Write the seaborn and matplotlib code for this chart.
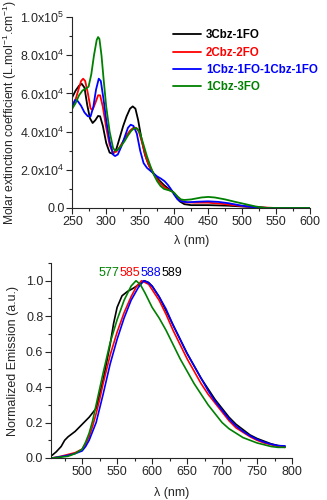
import numpy as np
import pandas as pd
import matplotlib
matplotlib.use("Agg")
import matplotlib.pyplot as plt
from matplotlib.ticker import MultipleLocator, FuncFormatter
import seaborn as sns

# ---------------- data ----------------
names = ["3Cbz-1FO", "2Cbz-2FO", "1Cbz-1FO-1Cbz-1FO", "1Cbz-3FO"]
colors = ["#000000", "#FF0000", "#0000FF", "#008000"]

# absorption (x in nm, y in units of 1e5 L mol-1 cm-1)
abs_x_black = [250, 255, 260, 264, 268, 272, 276, 280, 284, 288, 291, 295, 300, 305, 310, 315, 320, 325, 330, 335,
               339, 343, 347, 352, 357, 362, 367, 372, 378, 385, 392, 398, 403, 408, 415, 425, 450, 480, 510, 540, 600]
abs_y_black = [0.58, 0.615, 0.64, 0.65, 0.63, 0.54, 0.47, 0.445, 0.46, 0.482, 0.48, 0.43, 0.34, 0.29, 0.283, 0.31,
               0.37, 0.43, 0.48, 0.52, 0.532, 0.52, 0.46, 0.36, 0.28, 0.23, 0.195, 0.17, 0.145, 0.12, 0.10, 0.085,
               0.06, 0.035, 0.02, 0.015, 0.015, 0.012, 0.006, 0.0, 0.0]

abs_x_red = [250, 255, 260, 263, 266, 269, 273, 277, 280, 284, 288, 291, 295, 300, 305, 310, 315, 320, 325, 330,
             335, 340, 344, 348, 353, 358, 363, 368, 373, 378, 385, 392, 398, 403, 408, 415, 430, 450, 470, 500,
             530, 550, 600]
abs_y_red = [0.535, 0.57, 0.63, 0.665, 0.677, 0.665, 0.6, 0.52, 0.515, 0.55, 0.59, 0.59, 0.53, 0.42, 0.33, 0.29,
             0.295, 0.32, 0.35, 0.38, 0.405, 0.42, 0.42, 0.40, 0.34, 0.27, 0.22, 0.19, 0.16, 0.135, 0.11, 0.095,
             0.085, 0.065, 0.045, 0.03, 0.028, 0.028, 0.022, 0.01, 0.003, 0.0, 0.0]

abs_x_blue = [250, 254, 258, 263, 268, 273, 277, 281, 285, 289, 292, 296, 300, 305, 310, 313, 317, 322, 327, 332,
              336, 340, 345, 350, 355, 360, 365, 370, 375, 380, 386, 391, 396, 400, 405, 410, 420, 435, 450, 465,
              480, 500, 520, 540, 600]
abs_y_blue = [0.53, 0.565, 0.56, 0.535, 0.5, 0.48, 0.48, 0.53, 0.62, 0.677, 0.665, 0.57, 0.46, 0.35, 0.28, 0.272,
              0.28, 0.32, 0.37, 0.42, 0.436, 0.43, 0.39, 0.30, 0.235, 0.21, 0.195, 0.18, 0.165, 0.155, 0.14, 0.12,
              0.095, 0.07, 0.045, 0.035, 0.03, 0.033, 0.035, 0.032, 0.025, 0.012, 0.003, 0.0, 0.0]

abs_x_green = [250, 255, 260, 265, 270, 274, 278, 282, 286, 288, 290, 293, 296, 300, 305, 310, 313, 317, 322, 327,
               332, 337, 342, 346, 350, 355, 360, 365, 370, 375, 380, 385, 390, 395, 400, 405, 410, 415, 425, 440,
               450, 460, 475, 490, 505, 520, 535, 600]
abs_y_green = [0.52, 0.55, 0.59, 0.615, 0.625, 0.635, 0.7, 0.8, 0.88, 0.895, 0.885, 0.8, 0.68, 0.53, 0.4, 0.315,
               0.30, 0.305, 0.325, 0.35, 0.38, 0.405, 0.419, 0.415, 0.39, 0.33, 0.27, 0.22, 0.175, 0.14, 0.115,
               0.10, 0.095, 0.09, 0.08, 0.06, 0.045, 0.042, 0.045, 0.055, 0.058, 0.055, 0.045, 0.032, 0.02, 0.008,
               0.0, 0.0]

# emission (normalized)
em_x_black = [457, 463, 470, 475, 480, 490, 500, 510, 520, 530, 540, 545, 550, 557, 565, 572, 580, 589, 595, 600,
              610, 620, 630, 640, 650, 660, 670, 680, 690, 700, 710, 720, 730, 740, 750, 760, 770, 780, 790]
em_y_black = [0.015, 0.035, 0.065, 0.1, 0.12, 0.15, 0.19, 0.23, 0.28, 0.44, 0.64, 0.76, 0.85, 0.915, 0.94, 0.955,
              0.975, 1.0, 0.99, 0.97, 0.91, 0.83, 0.75, 0.67, 0.59, 0.52, 0.45, 0.39, 0.33, 0.28, 0.23, 0.19, 0.16,
              0.13, 0.11, 0.095, 0.08, 0.07, 0.065]

em_x_red = [457, 470, 480, 490, 500, 505, 510, 515, 520, 525, 530, 540, 550, 560, 570, 578, 585, 590, 595, 600,
            610, 620, 630, 640, 650, 660, 670, 680, 690, 700, 710, 720, 730, 740, 750, 760, 770, 780, 790]
em_y_red = [0.0, 0.01, 0.02, 0.03, 0.05, 0.08, 0.12, 0.18, 0.25, 0.33, 0.42, 0.58, 0.71, 0.82, 0.91, 0.97, 1.0,
            0.99, 0.98, 0.95, 0.89, 0.81, 0.72, 0.64, 0.56, 0.49, 0.42, 0.36, 0.31, 0.26, 0.21, 0.17, 0.145, 0.12,
            0.1, 0.085, 0.075, 0.065, 0.06]

em_x_blue = [457, 470, 480, 490, 500, 505, 510, 515, 520, 525, 530, 540, 550, 560, 570, 580, 588, 594, 600, 610,
             620, 630, 640, 650, 660, 670, 680, 690, 700, 710, 720, 730, 740, 750, 760, 770, 780, 790]
em_y_blue = [0.0, 0.008, 0.015, 0.025, 0.04, 0.065, 0.1, 0.15, 0.2, 0.28, 0.36, 0.53, 0.67, 0.79, 0.89, 0.96, 1.0,
             0.99, 0.97, 0.91, 0.84, 0.75, 0.67, 0.59, 0.52, 0.45, 0.38, 0.32, 0.27, 0.22, 0.18, 0.15, 0.125, 0.105,
             0.09, 0.078, 0.07, 0.068]

em_x_green = [457, 470, 480, 490, 500, 505, 510, 515, 520, 525, 530, 540, 550, 560, 570, 577, 583, 590, 600, 610,
              620, 630, 640, 650, 660, 670, 680, 690, 700, 710, 720, 730, 740, 750, 760, 770, 780, 790]
em_y_green = [0.0, 0.005, 0.01, 0.025, 0.05, 0.09, 0.14, 0.21, 0.3, 0.39, 0.48, 0.65, 0.78, 0.89, 0.97, 1.0, 0.98,
              0.93, 0.85, 0.79, 0.72, 0.64, 0.56, 0.49, 0.42, 0.36, 0.3, 0.25, 0.2, 0.165, 0.14, 0.115, 0.1, 0.085,
              0.075, 0.065, 0.06, 0.06]

peak_labels = ["577", "585", "588", "589"]
peak_colors = ["#008000", "#FF0000", "#0000FF", "#000000"]

# ---------------- frames ----------------
abs_df = pd.concat([
    pd.DataFrame({"wl": abs_x_black, "val": np.array(abs_y_black) * 1e5, "name": names[0]}),
    pd.DataFrame({"wl": abs_x_red, "val": np.array(abs_y_red) * 1e5, "name": names[1]}),
    pd.DataFrame({"wl": abs_x_blue, "val": np.array(abs_y_blue) * 1e5, "name": names[2]}),
    pd.DataFrame({"wl": abs_x_green, "val": np.array(abs_y_green) * 1e5, "name": names[3]}),
], ignore_index=True)

em_df = pd.concat([
    pd.DataFrame({"wl": em_x_black, "val": em_y_black, "name": names[0]}),
    pd.DataFrame({"wl": em_x_red, "val": em_y_red, "name": names[1]}),
    pd.DataFrame({"wl": em_x_blue, "val": em_y_blue, "name": names[2]}),
    pd.DataFrame({"wl": em_x_green, "val": em_y_green, "name": names[3]}),
], ignore_index=True)

# ---------------- style ----------------
sns.set_style("ticks")
plt.rcParams["font.family"] = ["Liberation Sans", "DejaVu Sans"]
plt.rcParams["mathtext.fontset"] = "custom"
plt.rcParams["mathtext.rm"] = "Liberation Sans"
plt.rcParams["mathtext.it"] = "Liberation Sans:italic"
plt.rcParams["mathtext.bf"] = "Liberation Sans:bold"
plt.rcParams["axes.linewidth"] = 0.8

fs = 9
pal = dict(zip(names, colors))

fig = plt.figure(figsize=(3.27, 5.0), dpi=100)
ax1 = fig.add_axes([0.221, 0.584, 0.727, 0.382])
ax2 = fig.add_axes([0.156, 0.084, 0.737, 0.390])

sns.lineplot(data=abs_df, x="wl", y="val", hue="name", hue_order=names, palette=pal,
             linewidth=1.3, ax=ax1, estimator=None)
sns.lineplot(data=em_df, x="wl", y="val", hue="name", hue_order=names, palette=pal,
             linewidth=1.2, ax=ax2, estimator=None, legend=False)

for ax in (ax1, ax2):
    sns.despine(ax=ax)
    ax.tick_params(which="major", direction="out", length=4, width=0.8, labelsize=fs, pad=1.5)
    ax.tick_params(which="minor", direction="out", length=2, width=0.8)

# top panel
ax1.set_xlim(250, 600)
ax1.set_ylim(0, 1e5)
ax1.xaxis.set_major_locator(MultipleLocator(50))
ax1.xaxis.set_minor_locator(MultipleLocator(25))
ax1.yaxis.set_major_locator(MultipleLocator(2e4))
ax1.yaxis.set_minor_locator(MultipleLocator(1e4))


def sci_fmt(v, pos):
    if abs(v) < 1e-9:
        return "0.0"
    e = int(np.floor(np.log10(abs(v))))
    m = v / 10 ** e
    return r"%.1fx10$^{%d}$" % (m, e)


ax1.yaxis.set_major_formatter(FuncFormatter(sci_fmt))
ax1.set_xlabel("λ (nm)", fontsize=fs, labelpad=5)
ax1.set_ylabel("Molar extinction coefficient (L.mol$^{-1}$.cm$^{-1}$)", fontsize=8.7, labelpad=1)

leg = ax1.legend(loc="upper left", bbox_to_anchor=(0.424, 0.935), frameon=False,
                 prop={"weight": "bold", "size": 8.3}, handlelength=2.4, handletextpad=0.45,
                 labelspacing=0.45, borderpad=0, borderaxespad=0)
for txt, c in zip(leg.get_texts(), colors):
    txt.set_color(c)
for h in leg.get_lines():
    h.set_linewidth(1.3)

# bottom panel
ax2.set_xlim(455.5, 800)
ax2.set_ylim(0, 1.1)
ax2.xaxis.set_major_locator(MultipleLocator(50))
ax2.xaxis.set_minor_locator(MultipleLocator(25))
ax2.yaxis.set_major_locator(MultipleLocator(0.2))
ax2.yaxis.set_minor_locator(MultipleLocator(0.1))
ax2.yaxis.set_major_formatter(FuncFormatter(lambda v, p: "%.1f" % v))
ax2.set_xlabel("λ (nm)", fontsize=fs, labelpad=7)
ax2.set_ylabel("Normalized Emission (a.u.)", fontsize=fs, labelpad=5)

# peak labels (contiguous, as in the reference)
lab_x = [523, 553, 583, 613]
for lx, t, c in zip(lab_x, peak_labels, peak_colors):
    ax2.text(lx, 1.045, t, color=c, fontsize=9, ha="left", va="center")

fig.savefig("out.png", dpi=100)
